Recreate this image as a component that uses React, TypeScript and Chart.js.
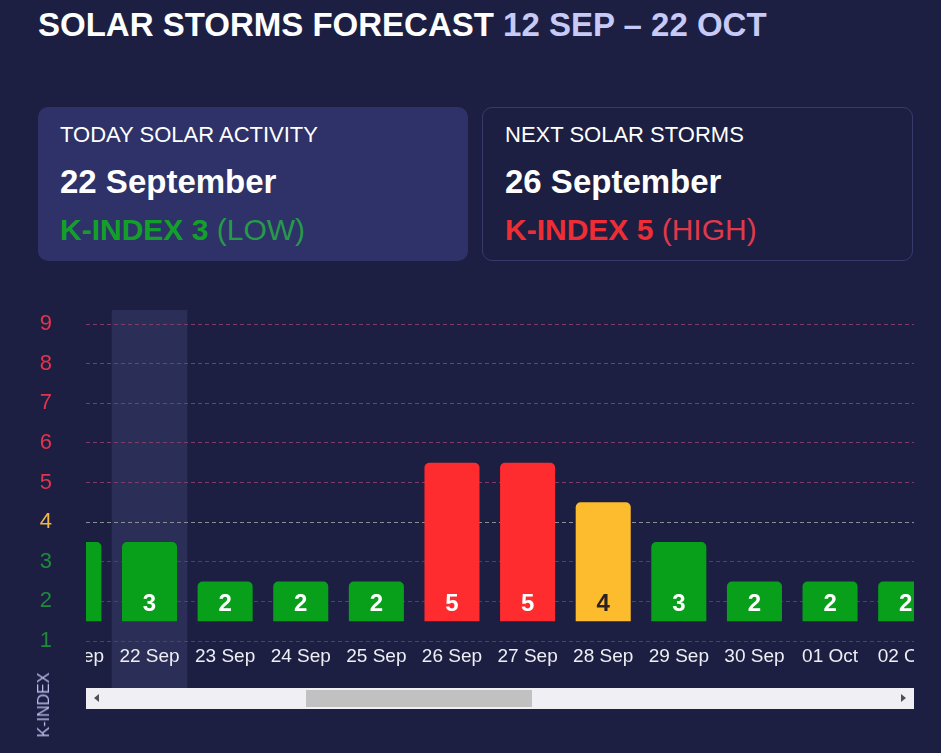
import React, { useEffect, useRef } from "react";
import { Chart, registerables } from "chart.js";

Chart.register(...registerables);

// ---- data ----
const dates = ["21 Sep", "22 Sep", "23 Sep", "24 Sep", "25 Sep", "26 Sep", "27 Sep", "28 Sep", "29 Sep", "30 Sep", "01 Oct", "02 Oct"];
const kIndex = [3, 3, 2, 2, 2, 5, 5, 4, 3, 2, 2, 2];
const yTicks = [1, 2, 3, 4, 5, 6, 7, 8, 9];
const todayIndex = 1;
const viewStart = 0.16;
const viewEnd = 11.11;
const barBase = 1.5;

const FONT = '"Liberation Sans", Arial, Helvetica, sans-serif';
const BG = "#1c1f41";
const GREEN = "#08a01b";
const RED = "#fe2c2f";
const YELLOW = "#fdbc2d";

function barColor(v: number) {
  return v >= 5 ? RED : v === 4 ? YELLOW : GREEN;
}
function labelColor(v: number) {
  return v === 4 ? "#2a2222" : "#ffffff";
}
function tickColor(v: number) {
  return v >= 5 ? "#e0354c" : v === 4 ? "#f1b548" : "#1f8a3c";
}
function gridColor(v: number) {
  return v >= 5 ? "#7c3d68" : v === 4 ? "#8e8c96" : "#3f4679";
}

const overlay = {
  id: "overlay",
  beforeDraw(chart: any) {
    const { ctx, chartArea, scales } = chart;
    const xs = scales.x;
    const x0 = xs.getPixelForValue(todayIndex - 0.5);
    const x1 = xs.getPixelForValue(todayIndex + 0.5);
    ctx.save();
    ctx.fillStyle = "#2b2e56";
    ctx.fillRect(x0, chartArea.top - 14, x1 - x0, chartArea.bottom + 49 - (chartArea.top - 14));
    ctx.restore();
  },
  afterDatasetsDraw(chart: any) {
    const { ctx, chartArea, scales } = chart;
    const xs = scales.x;
    const meta = chart.getDatasetMeta(0);
    ctx.save();
    ctx.beginPath();
    ctx.rect(chartArea.left, 0, chartArea.right - chartArea.left, chart.height);
    ctx.clip();
    // value labels
    ctx.font = `bold 24px ${FONT}`;
    ctx.textAlign = "center";
    ctx.textBaseline = "middle";
    meta.data.forEach((el: any, i: number) => {
      ctx.fillStyle = labelColor(kIndex[i]);
      ctx.fillText(String(kIndex[i]), el.x, el.base - 17);
    });
    // x labels
    ctx.font = `19px ${FONT}`;
    ctx.fillStyle = "#eeeef4";
    dates.forEach((d, i) => {
      ctx.fillText(d, xs.getPixelForValue(i), chartArea.bottom + 16);
    });
    ctx.restore();
  },
};

export default function App() {
  const ref = useRef<HTMLCanvasElement | null>(null);
  useEffect(() => {
    if (!ref.current) return;
    const chart = new Chart(ref.current, {
      type: "bar",
      data: {
        datasets: [
          {
            data: dates.map((d, i) => ({ x: i, y: [barBase, kIndex[i] + 0.5] })) as any,
            backgroundColor: kIndex.map(barColor),
            borderRadius: { topLeft: 5, topRight: 5, bottomLeft: 0, bottomRight: 0 },
            borderWidth: 0,
            barPercentage: 0.728,
            categoryPercentage: 1,
          },
        ],
      },
      options: {
        animation: false,
        responsive: false,
        devicePixelRatio: 1,
        layout: { padding: { left: 0, right: 27, top: 24, bottom: 49 } },
        plugins: { legend: { display: false }, tooltip: { enabled: false }, title: { display: false } },
        scales: {
          x: { type: "linear", min: viewStart, max: viewEnd, display: false, offset: false },
          y: {
            min: yTicks[0],
            max: yTicks[yTicks.length - 1],
            afterFit: (s: any) => {
              s.width = 86;
              s.paddingTop = 0;
              s.paddingBottom = 0;
            },
            afterBuildTicks: (s: any) => {
              s.ticks = yTicks.map((v) => ({ value: v }));
            },
            ticks: {
              padding: 34,
              color: (c: any) => tickColor(c.tick.value),
              font: { family: FONT, size: 22 },
            },
            grid: {
              color: (c: any) => gridColor(c.tick.value),
              lineWidth: 1,
              drawTicks: false,
            },
            border: { display: false, dash: [4, 3] },
          },
        },
      } as any,
      plugins: [overlay],
    });
    return () => chart.destroy();
  }, []);

  const abs = (l: number, t: number, extra: React.CSSProperties = {}): React.CSSProperties => ({
    position: "absolute",
    left: l,
    top: t,
    lineHeight: 1,
    whiteSpace: "nowrap",
    ...extra,
  });

  return (
    <div style={{ position: "absolute", left: 0, top: 0, width: 941, height: 753, background: BG, overflow: "hidden", fontFamily: FONT, color: "#fff" }}>
      <div style={abs(38, 8, { fontSize: 33, fontWeight: "bold" })}>
        SOLAR STORMS FORECAST <span style={{ color: "#c7c9f6" }}>12 SEP – 22 OCT</span>
      </div>

      <div style={{ position: "absolute", left: 38, top: 107, width: 430, height: 154, background: "#2e3268", borderRadius: 10 }} />
      <div style={abs(60, 124, { fontSize: 22 })}>TODAY SOLAR ACTIVITY</div>
      <div style={abs(60, 165, { fontSize: 33, fontWeight: "bold" })}>22 September</div>
      <div style={abs(60, 215, { fontSize: 30, color: "#13a02a" })}>
        <b>K-INDEX 3</b> <span style={{ color: "#27994a" }}>(LOW)</span>
      </div>

      <div style={{ position: "absolute", left: 482, top: 107, width: 429, height: 152, border: "1px solid #363b6b", borderRadius: 10 }} />
      <div style={abs(505, 124, { fontSize: 22 })}>NEXT SOLAR STORMS</div>
      <div style={abs(505, 165, { fontSize: 33, fontWeight: "bold" })}>26 September</div>
      <div style={abs(505, 215, { fontSize: 30, color: "#ef2d35" })}>
        <b>K-INDEX 5</b> <span style={{ color: "#de3a4c" }}>(HIGH)</span>
      </div>

      <canvas ref={ref} width={941} height={390} style={{ position: "absolute", left: 0, top: 300, width: 941, height: 390 }} />

      <div style={{ position: "absolute", left: 86, top: 688, width: 828, height: 21, background: "#f0f0f4" }}>
        <div style={{ position: "absolute", left: 220, top: 2, width: 226, height: 17, background: "#c1c1c1" }} />
        <div style={{ position: "absolute", left: 8, top: 6, width: 0, height: 0, borderTop: "4px solid transparent", borderBottom: "4px solid transparent", borderRight: "5px solid #505050" }} />
        <div style={{ position: "absolute", right: 8, top: 6, width: 0, height: 0, borderTop: "4px solid transparent", borderBottom: "4px solid transparent", borderLeft: "5px solid #505050" }} />
      </div>

      <div style={{ position: "absolute", left: 44, top: 705, width: 0, height: 0 }}>
        <div style={{ position: "absolute", left: 0, top: 0, transform: "translate(-50%, -50%) rotate(-90deg)", fontSize: 16, color: "#b9bcea", whiteSpace: "nowrap", lineHeight: 1 }}>
          K-INDEX
        </div>
      </div>
    </div>
  );
}
